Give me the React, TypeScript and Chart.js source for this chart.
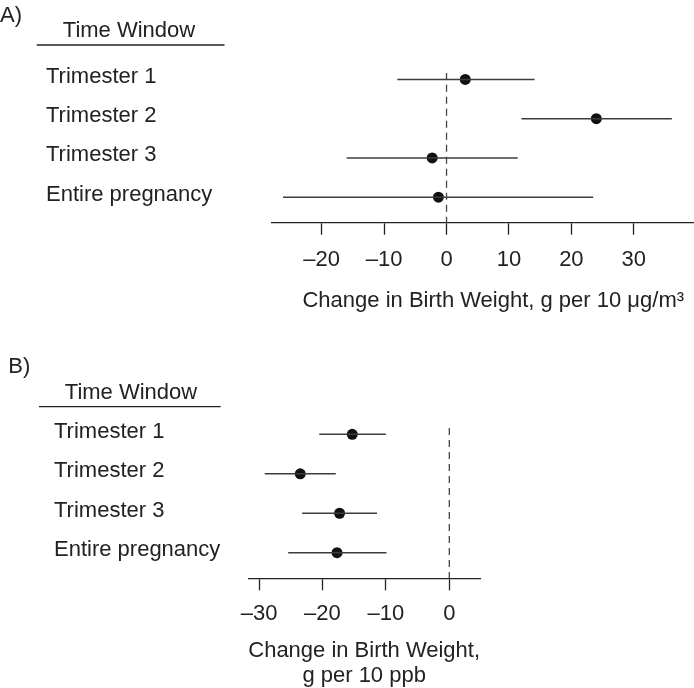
import React, { useEffect, useRef } from "react";
import { Chart, registerables } from "chart.js";

Chart.register(...registerables);

// ---------- data ----------
const windows = ["Trimester 1", "Trimester 2", "Trimester 3", "Entire pregnancy"];
const rowPos = [1, 2, 3, 4];

// Panel A: change per 10 µg/m³
const pmEstimate = [3.0, 24.0, -2.3, -1.3];
const pmLower = [-7.9, 12.0, -16.0, -26.2];
const pmUpper = [14.1, 36.1, 11.4, 23.5];
const pmTicks = [-20, -10, 0, 10, 20, 30];
const pmRange = [-27.96, 42.93];
const pmRowRange = [0.83, 4.65];

// Panel B: change per 10 ppb
const ozEstimate = [-15.3, -23.5, -17.3, -17.7];
const ozLower = [-20.5, -29.1, -23.2, -25.4];
const ozUpper = [-10.0, -17.9, -11.4, -9.9];
const ozTicks = [-30, -20, -10, 0];
const ozRange = [-31.69, 4.84];
const ozRowRange = [0.84, 4.648];

const nullEffect = 0;
const headerText = "Time Window";
const titleA = "Change in Birth Weight, g per 10 \u03bcg/m\u00b3";
const titleB = ["Change in Birth Weight,", "g per 10 ppb"];

// ---------- styling ----------
const FONT = "'Liberation Sans', Arial, Helvetica, sans-serif";
const INK = "#222";

const headerPlugin = {
  id: "panelHeader",
  afterDraw(chart: any, _args: any, o: any) {
    const ctx = chart.ctx;
    ctx.save();
    ctx.fillStyle = INK;
    ctx.font = `22px ${FONT}`;
    ctx.textBaseline = "alphabetic";
    ctx.textAlign = "left";
    ctx.fillText(o.letter, o.letterX, o.letterY);
    ctx.textAlign = "center";
    ctx.fillText(o.header, o.headerX, o.headerY);
    ctx.strokeStyle = INK;
    ctx.lineWidth = 1.3;
    ctx.beginPath();
    ctx.moveTo(o.lineX0, o.lineY);
    ctx.lineTo(o.lineX1, o.lineY);
    ctx.stroke();
    ctx.restore();
  },
};

const fmt = (v: number) => (v < 0 ? "\u2013" + Math.abs(v) : String(v));

function makeConfig(p: any) {
  const ciSets = rowPos.map((r, i) => ({
    data: [
      { x: p.lower[i], y: r },
      { x: p.upper[i], y: r },
    ],
    showLine: true,
    borderColor: "#3c3c3c",
    borderWidth: 1.5,
    pointRadius: 0,
  }));
  return {
    type: "scatter",
    data: {
      datasets: [
        {
          data: [
            { x: nullEffect, y: p.rowRange[0] },
            { x: nullEffect, y: p.rowRange[1] },
          ],
          showLine: true,
          borderColor: "#444",
          borderWidth: 1.3,
          borderDash: [7, 5],
          pointRadius: 0,
        },
        ...ciSets,
        {
          data: rowPos.map((r, i) => ({ x: p.est[i], y: r })),
          pointRadius: 5.5,
          pointBackgroundColor: "#111",
          pointBorderWidth: 0,
          showLine: false,
        },
      ],
    },
    options: {
      animation: false,
      responsive: false,
      devicePixelRatio: 1,
      events: [],
      layout: { padding: p.padding },
      plugins: {
        legend: { display: false },
        tooltip: { enabled: false },
        panelHeader: p.header,
      },
      scales: {
        x: {
          type: "linear",
          position: "bottom",
          min: p.range[0],
          max: p.range[1],
          afterBuildTicks: (s: any) => {
            s.ticks = p.ticks.map((v: number) => ({ value: v }));
          },
          afterFit: (s: any) => {
            s.paddingLeft = 0;
            s.paddingRight = 0;
          },
          grid: {
            display: true,
            drawOnChartArea: false,
            drawTicks: true,
            tickLength: 12,
            tickColor: INK,
            tickWidth: 1.3,
          },
          border: { display: true, color: INK, width: 1.3 },
          ticks: {
            padding: p.tickPad,
            color: INK,
            autoSkip: false,
            maxRotation: 0,
            font: { family: FONT, size: 22 },
            callback: (v: any) => fmt(Number(v)),
          },
          title: {
            display: true,
            text: p.title,
            color: INK,
            font: { family: FONT, size: 22, lineHeight: p.titleLH },
            padding: { top: p.titlePad, bottom: 0 },
          },
        },
        y: {
          type: "linear",
          reverse: true,
          min: p.rowRange[0],
          max: p.rowRange[1],
          afterBuildTicks: (s: any) => {
            s.ticks = rowPos.map((v) => ({ value: v }));
          },
          afterFit: (s: any) => {
            s.width = p.yWidth;
          },
          grid: { display: false },
          border: { display: false },
          ticks: {
            crossAlign: "far",
            padding: 0,
            labelOffset: -2.5,
            autoSkip: false,
            color: INK,
            font: { family: FONT, size: 22 },
            callback: (v: any) => {
              const k = rowPos.indexOf(Number(v));
              return k >= 0 ? windows[k] : "";
            },
          },
        },
      },
    },
    plugins: [headerPlugin],
  } as any;
}

export default function App() {
  const refA = useRef<HTMLCanvasElement>(null);
  const refB = useRef<HTMLCanvasElement>(null);

  useEffect(() => {
    const a = new Chart(
      refA.current as HTMLCanvasElement,
      makeConfig({
        est: pmEstimate,
        lower: pmLower,
        upper: pmUpper,
        ticks: pmTicks,
        range: pmRange,
        rowRange: pmRowRange,
        title: titleA,
        titleLH: 1.2,
        titlePad: 3,
        tickPad: 12,
        yWidth: 226,
        padding: { left: 46, top: 72.7, right: 0, bottom: 5.5 },
        header: {
          letter: "A)",
          letterX: 0,
          letterY: 21.7,
          header: headerText,
          headerX: 129,
          headerY: 36.7,
          lineX0: 36.7,
          lineX1: 224.5,
          lineY: 45,
        },
      })
    );
    const b = new Chart(
      refB.current as HTMLCanvasElement,
      makeConfig({
        est: ozEstimate,
        lower: ozLower,
        upper: ozUpper,
        ticks: ozTicks,
        range: ozRange,
        rowRange: ozRowRange,
        title: titleB,
        titleLH: 25 / 22,
        titlePad: 1,
        tickPad: 10.5,
        yWidth: 194.3,
        padding: { left: 54, top: 98, right: 214, bottom: 11.3 },
        header: {
          letter: "B)",
          letterX: 8.3,
          letterY: 43.3,
          header: headerText,
          headerX: 131,
          headerY: 69.3,
          lineX0: 39,
          lineX1: 220.7,
          lineY: 76.7,
        },
      })
    );
    return () => {
      a.destroy();
      b.destroy();
    };
  }, []);

  return (
    <div
      style={{
        position: "absolute",
        left: 0,
        top: 0,
        width: 694,
        height: 688,
        overflow: "hidden",
        background: "#fff",
      }}
    >
      <canvas
        ref={refA}
        width={720}
        height={320}
        style={{ position: "absolute", left: 0, top: 0 }}
      />
      <canvas
        ref={refB}
        width={694}
        height={370}
        style={{ position: "absolute", left: 0, top: 330 }}
      />
    </div>
  );
}
